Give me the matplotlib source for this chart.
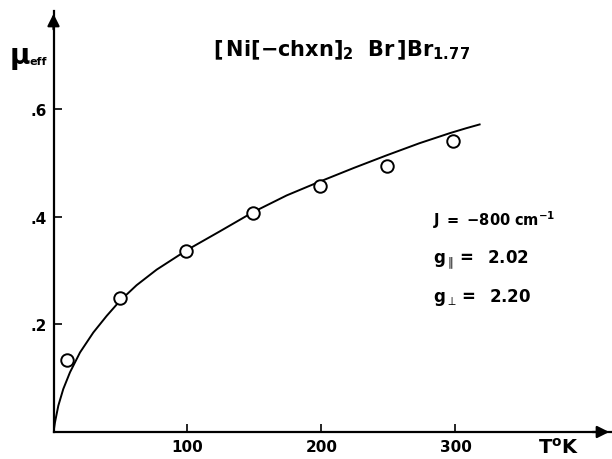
import matplotlib
matplotlib.use('Agg')
import matplotlib.pyplot as plt

# measured points (open circles)
temp_pts = [10, 50, 99, 149, 199, 249, 298]
mu_pts = [0.134, 0.249, 0.337, 0.407, 0.457, 0.494, 0.541]

# calculated curve
temp_fit = [0, 1.1, 3.6, 7.3, 12.3, 19.8, 29.7, 39.7, 49.6, 62, 77, 100, 124,
            149, 174, 198, 224, 248, 273, 296, 308, 318]
mu_fit = [0, 0.018, 0.049, 0.080, 0.111, 0.148, 0.185, 0.216, 0.244, 0.273, 0.302,
          0.339, 0.373, 0.409, 0.440, 0.465, 0.491, 0.514, 0.537, 0.556, 0.565, 0.572]

x_ticks = [100, 200, 300]
y_ticks = [0.2, 0.4, 0.6]
y_ticklabels = ['.2', '.4', '.6']

plt.rcParams['font.family'] = 'DejaVu Sans'

fig = plt.figure(figsize=(6.12, 4.6), dpi=100)
ax = fig.add_axes([53.5 / 612, 27 / 460, 558.5 / 612, 421 / 460])
ax.set_xlim(0, 416.8)
ax.set_ylim(0, 0.783)

ax.plot(temp_fit, mu_fit, color='black', lw=1.4)
ax.plot(temp_pts, mu_pts, 'o', ms=9, mfc='white', mec='black', mew=1.4)

for s in ['top', 'right']:
    ax.spines[s].set_visible(False)
for s in ['left', 'bottom']:
    ax.spines[s].set_linewidth(1.6)

# axis arrow heads
arrow = dict(arrowstyle='-|>', color='black', lw=1.6, mutation_scale=18)
ax.annotate('', xy=(1, 0), xytext=(0.96, 0), xycoords='axes fraction',
            arrowprops=arrow, annotation_clip=False)
ax.annotate('', xy=(0, 1), xytext=(0, 0.95), xycoords='axes fraction',
            arrowprops=arrow, annotation_clip=False)

ax.set_xticks(x_ticks)
ax.set_xticklabels([str(t) for t in x_ticks], fontsize=11, fontweight='bold')
ax.set_yticks(y_ticks)
ax.set_yticklabels(y_ticklabels, fontsize=11, fontweight='bold')
ax.tick_params(direction='in', length=6, width=1.2, pad=5)

fig.text(538 / 612, 1 - 448 / 460, r'$\mathbf{T}^{\mathbf{o}}\mathbf{K}$', fontsize=14,
         ha='left', va='center')
fig.text(10 / 612, 1 - 56 / 460, 'μ', fontsize=20, fontweight='bold', ha='left', va='center')
fig.text(30 / 612, 1 - 62 / 460, 'eff', fontsize=8, fontweight='bold', ha='left', va='center')

fig.text(342 / 612, 1 - 50 / 460, r'$\mathbf{[\,Ni[-chxn]_2\ \ Br\,]Br_{1.77}}$',
         fontsize=15, ha='center', va='center')

fig.text(433 / 612, 1 - 220 / 460, r'$\mathbf{J\ =\ {-}800\ cm^{-1}}$', fontsize=10.5,
         ha='left', va='center')
fig.text(433 / 612, 1 - 260 / 460, r'$\mathbf{g}_{\parallel}\mathbf{=\ \ 2.02}$', fontsize=12,
         ha='left', va='center')
fig.text(433 / 612, 1 - 297 / 460, r'$\mathbf{g}_{\perp}\mathbf{=\ \ 2.20}$', fontsize=12,
         ha='left', va='center')

fig.savefig('out.png', dpi=100)
